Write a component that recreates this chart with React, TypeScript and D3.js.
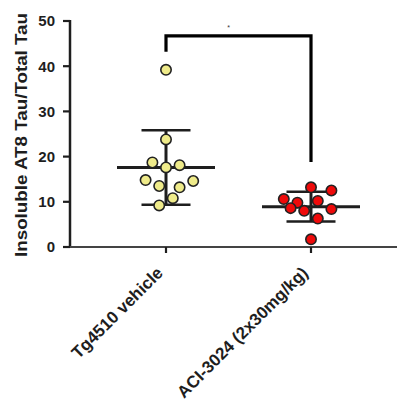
import React from "react";
import * as d3 from "d3";

const categories = ["Tg4510 vehicle", "ACI-3024 (2x30mg/kg)"];
const vehicleValues = [39.2, 23.8, 18.7, 17.6, 18.1, 14.8, 14.6, 13.5, 13.2, 10.8, 9.2];
const vehicleSlots = [0, 0, -2, 0, 2, -3, 4, -1, 2, 1, -1];
const aciValues = [13.2, 12.5, 10.6, 9.8, 10.2, 8.6, 8.0, 8.4, 6.3, 1.7];
const aciSlots = [0, 3, -4, -2, 1, -3, -1, 3, 1, 0];
const yTicks = [0, 10, 20, 30, 40, 50];
const yTitle = "Insoluble AT8 Tau/Total Tau";
const sigLabel = "*";
const bracketTop = 46.7;
const bracketLeftEnd = 43.2;
const bracketRightEnd = 18.8;

const W = 398;
const H = 408;

export default function App() {
  const y = d3.scaleLinear().domain([0, 50]).range([247, 21]);
  const x = d3.scalePoint<string>().domain(categories).range([166, 311]);
  const groups = [
    { cat: categories[0], values: vehicleValues, slots: vehicleSlots, fill: "#efeb8a" },
    { cat: categories[1], values: aciValues, slots: aciSlots, fill: "#ee0a0a" },
  ];
  const slotStep = 6.8;
  const axisX = 70;
  const ink = "#1e1e1e";

  return (
    <svg width={W} height={H} style={{ position: "absolute", left: 0, top: 0, background: "#fff" }}
      fontFamily="Liberation Sans, Arial, sans-serif">
      {/* y axis */}
      <line x1={axisX} x2={axisX} y1={y(50) - 1} y2={y(0) + 1} stroke={ink} strokeWidth={2.5} />
      {yTicks.map((t) => (
        <g key={t}>
          <line x1={axisX - 7} x2={axisX} y1={y(t)} y2={y(t)} stroke={ink} strokeWidth={2.2} />
          <text x={55} y={y(t)} dy="0.36em" textAnchor="end" fontSize={15} fontWeight="bold" fill={ink}>
            {t}
          </text>
        </g>
      ))}
      {/* x axis */}
      <line x1={axisX} x2={397} y1={y(0)} y2={y(0)} stroke="#444" strokeWidth={2.2} />
      {categories.map((c) => (
        <line key={c} x1={x(c)!} x2={x(c)!} y1={y(0)} y2={y(0) + 6} stroke={ink} strokeWidth={2.2} />
      ))}
      {/* y title */}
      <text transform={`translate(27,${(13 + 257) / 2}) rotate(-90)`} textAnchor="middle" fontSize={16}
        fontWeight="bold" fill={ink} textLength={244} lengthAdjust="spacingAndGlyphs">
        {yTitle}
      </text>
      {/* x labels */}
      {categories.map((c) => (
        <text key={c} transform={`translate(${x(c)! - 2},${y(0) + 27}) rotate(-45)`} textAnchor="end"
          fontSize={17} fontWeight="bold" fill={ink}>
          {c}
        </text>
      ))}
      {/* mean and SD */}
      {groups.map((g) => {
        const cx = x(g.cat)!;
        const m = d3.mean(g.values)!;
        const sd = d3.deviation(g.values)!;
        return (
          <g key={g.cat} stroke={ink}>
            <line x1={cx} x2={cx} y1={y(m + sd)} y2={y(m - sd)} strokeWidth={3} />
            <line x1={cx - 49} x2={cx + 49} y1={y(m)} y2={y(m)} strokeWidth={3} />
            <line x1={cx - 24.5} x2={cx + 24.5} y1={y(m + sd)} y2={y(m + sd)} strokeWidth={2.5} />
            <line x1={cx - 24.5} x2={cx + 24.5} y1={y(m - sd)} y2={y(m - sd)} strokeWidth={2.5} />
          </g>
        );
      })}
      {/* points */}
      {groups.map((g) =>
        g.values.map((v, i) => (
          <circle key={g.cat + i} cx={x(g.cat)! + g.slots[i] * slotStep} cy={y(v)} r={5.2}
            fill={g.fill} stroke="#222" strokeWidth={1.6} />
        ))
      )}
      {/* significance bracket */}
      <path
        d={`M${x(categories[0])},${y(bracketLeftEnd)}V${y(bracketTop)}H${x(categories[1])}V${y(bracketRightEnd)}`}
        fill="none" stroke="#000" strokeWidth={3.2} />
      <text x={(x(categories[0])! + x(categories[1])!) / 2 - 10} y={y(bracketTop) - 6} textAnchor="middle"
        fontSize={7} fill="#333">
        {sigLabel}
      </text>
    </svg>
  );
}
